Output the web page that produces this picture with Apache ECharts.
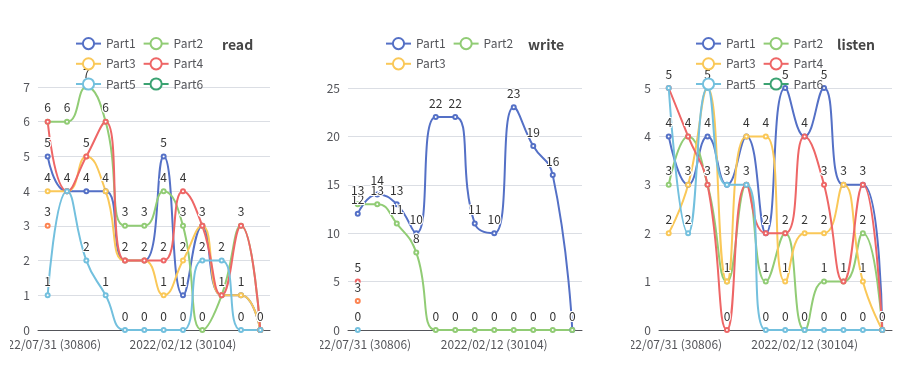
<!DOCTYPE html>
<html>
<head>
<meta charset="utf-8">
<script src="https://cdn.jsdelivr.net/npm/echarts@6/dist/echarts.min.js"></script>
<style>
html,body{margin:0;padding:0;background:#fff;overflow:hidden;width:903px;height:388px}
.c{position:absolute;top:0;height:388px;overflow:hidden}
</style>
</head>
<body>
<div id="c0" class="c" style="left:10px;width:300px"></div>
<div id="c1" class="c" style="left:320px;width:300px"></div>
<div id="c2" class="c" style="left:631px;width:272px"></div>
<script>
const categories = [
  "2022/07/31 (30806)", "2022/07/02 (30705)", "2022/06/04 (30604)", "2022/05/07 (30503)",
  "2022/04/09 (30402)", "2022/03/12 (30301)", "2022/02/26 (30202)", "2022/02/12 (30104)",
  "2022/01/15 (30003)", "2021/12/18 (29902)", "2021/11/20 (29801)", "2021/10/23 (29700)"
];
const titles = ["read", "write", "listen"];
const legendRead = ["Part1", "Part2", "Part3", "Part4", "Part5", "Part6"];
const legendWrite = ["Part1", "Part2", "Part3"];
const legendListen = ["Part1", "Part2", "Part3", "Part4", "Part5", "Part6"];

// read
const readPart1 = [5, 4, 4, 4, 2, 2, 5, 1, 3, 1, 1, 0];
const readPart2 = [6, 6, 7, 6, 3, 3, 4, 3, 0, 1, 3, 0];
const readPart3 = [4, 4, 5, 4, 2, 2, 1, 2, 3, 1, 1, 0];
const readPart4 = [6, 4, 5, 6, 2, 2, 2, 4, 3, 1, 3, 0];
const readPart5 = [1, 4, 2, 1, 0, 0, 0, 0, 2, 2, 0, 0];
const readPart6 = [null, null, null, null, null, null, null, null, null, null, null, null];
const readPart7 = [3, null, null, null, null, null, null, null, null, null, null, null];

// write
const writePart1 = [12, 14, 13, 10, 22, 22, 11, 10, 23, 19, 16, 0];
const writePart2 = [13, 13, 11, 8, 0, 0, 0, 0, 0, 0, 0, 0];
const writePart3 = [null, null, null, null, null, null, null, null, null, null, null, null];
const writePart4 = [5, null, null, null, null, null, null, null, null, null, null, null];
const writePart5 = [0, null, null, null, null, null, null, null, null, null, null, null];
const writePart7 = [3, null, null, null, null, null, null, null, null, null, null, null];

// listen
const listenPart1 = [4, 3, 4, 3, 4, 2, 5, 4, 5, 3, 3, 0];
const listenPart2 = [3, 4, 3, 1, 3, 1, 2, 0, 1, 1, 2, 0];
const listenPart3 = [2, 3, 5, 1, 4, 4, 1, 2, 2, 3, 1, 0];
const listenPart4 = [5, 4, 3, 0, 3, 2, 2, 4, 3, 1, 3, 0];
const listenPart5 = [5, 2, 5, 3, 3, 0, 0, 0, 0, 0, 0, 0];
const listenPart6 = [null, null, null, null, null, null, null, null, null, null, null, null];

const colorMap = {
  Part1: "#5470c6", Part2: "#91cc75", Part3: "#fac858", Part4: "#ee6666",
  Part5: "#73c0de", Part6: "#3ba272", Part7: "#fc8452"
};
const FONT = "'Noto Sans CJK SC', sans-serif";

function mk(name, data) {
  return {
    name: name, type: "line", smooth: true, data: data,
    color: colorMap[name],
    symbol: "emptyCircle", symbolSize: 4,
    label: { show: true, position: "top", fontSize: 12 }
  };
}

const panels = [
  { grid: { left: 28, top: 87, width: 232, height: 243 }, yMax: 7, yInt: 1, titleLeft: 207, legendLeft: 60,
    legend: legendRead,
    series: [["Part1", readPart1], ["Part2", readPart2], ["Part3", readPart3], ["Part4", readPart4],
             ["Part5", readPart5], ["Part6", readPart6], ["Part7", readPart7]] },
  { grid: { left: 28, top: 88, width: 234, height: 242 }, yMax: 25, yInt: 5, titleLeft: 203, legendLeft: 60,
    legend: legendWrite,
    series: [["Part1", writePart1], ["Part2", writePart2], ["Part3", writePart3], ["Part4", writePart4],
             ["Part5", writePart5], ["Part7", writePart7]] },
  { grid: { left: 28, top: 88, width: 233, height: 242 }, yMax: 5, yInt: 1, titleLeft: 201, legendLeft: 59,
    legend: legendListen,
    series: [["Part1", listenPart1], ["Part2", listenPart2], ["Part3", listenPart3], ["Part4", listenPart4],
             ["Part5", listenPart5], ["Part6", listenPart6]] }
];

panels.forEach((p, i) => {
  const chart = echarts.init(document.getElementById("c" + i));
  chart.setOption({
    animation: false,
    textStyle: { fontFamily: FONT },
    title: { text: titles[i], left: p.titleLeft, top: 33,
      textStyle: { fontSize: 14, fontWeight: "bold", color: "#464646", fontFamily: FONT } },
    legend: { data: p.legend, left: p.legendLeft, top: 32, width: 140, itemGap: 7,
      textStyle: { fontSize: 12, fontFamily: FONT } },
    grid: Object.assign({ outerBoundsMode: "none" }, p.grid),
    xAxis: { type: "category", data: categories, boundaryGap: true,
      axisLabel: { interval: 6, fontSize: 12 } },
    yAxis: { type: "value", min: 0, max: p.yMax, interval: p.yInt, axisLabel: { fontSize: 12 } },
    series: p.series.map(s => mk(s[0], s[1]))
  });
});
</script>
</body>
</html>
